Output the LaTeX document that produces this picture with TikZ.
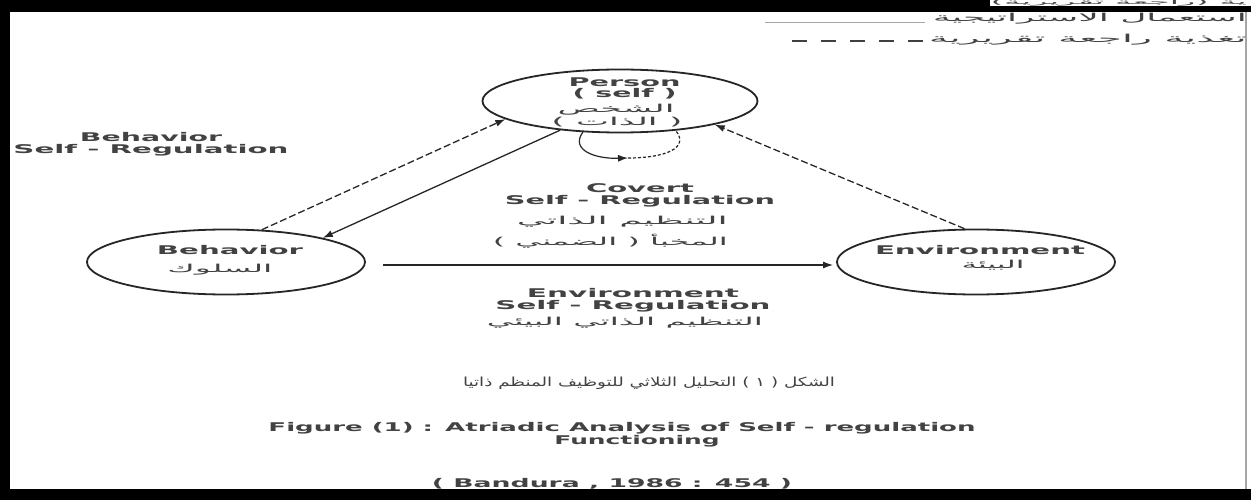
\documentclass[tikz,border=0pt]{standalone}
\usepackage{fontspec}
\usepackage{graphicx}
\usetikzlibrary{shapes.geometric,arrows.meta,calc}
\TeXXeTstate=1
\newfontfamily\arabicfont[Script=Arabic]{DejaVu Sans}
\newfontfamily\latf{DejaVu Sans Bold}
\newcommand{\LW}[2]{\resizebox{#1}{\height}{\latf\fontsize{12}{12}\selectfont #2}}
\newcommand{\AR}[2]{\resizebox{#1}{\height}{\arabicfont\fontsize{11}{12}\selectfont\beginR #2\endR}}
\newcommand{\ARbig}[2]{\resizebox{#1}{\height}{\arabicfont\fontsize{12.5}{13}\selectfont\beginR #2\endR}}
\definecolor{ink}{gray}{0.26}
\tikzset{
  lat/.style={font=\fontsize{12}{11.5}\selectfont, text=ink, inner sep=0pt, align=center},
  ar/.style={text=ink, inner sep=0pt},
  oval/.style={draw=black!85, line width=1.8pt, ellipse, inner sep=0pt},
  arr/.style={-{Latex[length=10pt,width=7pt]}, line width=1.3pt, draw=black!85},
  dsh/.style={arr, dash pattern=on 7pt off 3pt},
}
\begin{document}
\begin{tikzpicture}[x=1pt,y=-1pt]
\useasboundingbox (0,0) rectangle (1251,500);
% frame
\fill[white] (0,0) rectangle (1251,500);
\fill[black] (0,0) rectangle (990,12);
\fill[black] (990,6) rectangle (1251,12);
\fill[black] (0,0) rectangle (10,500);
\fill[black] (0,489) rectangle (1251,500);
\draw[gray!70, line width=1.5pt] (1246,12) -- (1246,489);
\node[ar, anchor=east] (cut) at (1247,3) {\resizebox{256pt}{5pt}{\arabicfont\beginR ية (راجعة تقريرية)\endR}};
% legend
\node[ar, anchor=east] (lg1) at (1247,19) {\AR{314pt}{\beginR استعمال الاستراتيجية\endR}};
\draw[gray!70, line width=1pt] ($(lg1.west)+(-8,4)$) -- +(-160,0);
\node[ar, anchor=east] (lg2) at (1247,40) {\AR{318pt}{\beginR تغذية راجعة تقريرية\endR}};
\draw[black!75, line width=1.2pt, dash pattern=on 15pt off 14pt] ($(lg2.west)+(-6,1)$) -- +(-132,0);
% ellipses
\node[oval, minimum width=275pt, minimum height=63pt] (per) at (620,101) {};
\node[oval, minimum width=278pt, minimum height=65pt] (beh) at (226,262) {};
\node[oval, minimum width=278pt, minimum height=65pt] (env) at (976,262) {};
% texts in ellipses
\node[lat] (pert) at (624.5,88.5) {\LW{112pt}{Person}\\\LW{104pt}{( self )}};
\node[ar] (pera1) at (616,110) {\AR{117pt}{الشخص}};
\node[ar] (pera2) at (617,122) {\AR{131pt}{\beginR ( الذات )\endR}};
\node[lat] (beht) at (230,250) {\LW{146pt}{Behavior}};
\node[ar] (beha) at (220,270) {\AR{105pt}{السلوك}};
\node[lat] (envt) at (980,250) {\LW{210pt}{Environment}};
\node[ar] (enva) at (993,265) {\AR{63pt}{البيئة}};
% labels
\node[lat] (l1) at (151,144) {\LW{142pt}{Behavior}\\\LW{275pt}{Self - Regulation}};
\node[lat] (l2) at (640,195.5) {\LW{108pt}{Covert}\\\LW{270pt}{Self - Regulation}};
\node[ar, anchor=east] (l2a) at (728,222) {\AR{211pt}{\beginR التنظيم الذاتي\endR}};
\node[ar, anchor=east] (l2b) at (728,241) {\AR{235pt}{\beginR المخبأ ( الضمني )\endR}};
\node[lat] (l3) at (633,300) {\LW{212pt}{Environment}\\\LW{275pt}{Self - Regulation}};
\node[ar] (l3a) at (625,323) {\AR{276pt}{\beginR التنظيم الذاتي البيئي\endR}};
% caption
\node[ar] (capa) at (649,383) {\ARbig{372pt}{\beginR الشكل ( ١ ) التحليل الثلاثي للتوظيف المنظم ذاتيا\endR}};
\node[lat] (cap1) at (622,428) {\LW{707pt}{Figure (1) : Atriadic Analysis of Self - regulation}};
\node[lat] (cap2) at (637,441) {\LW{165pt}{Functioning}};
\node[lat] (cap3) at (612,484) {\LW{360pt}{( Bandura , 1986 : 454 )}};
% connectors
\draw[dsh] (beh.42) -- (per.189);
\draw[arr] (per.206) -- (beh.14);
\draw[dsh] (env.109) -- (per.346);
\draw[arr] ($(beh.east)+(17,3)$) -- ($(env.west)+(-3,3)$);
% self loop
\coordinate (lpb) at (628,158);
\draw[arr, line width=1.2pt] (per.220) .. controls (570,150) and (595,159) .. (lpb);
\draw[black!85, line width=1.2pt, dash pattern=on 3pt off 2pt] (lpb) .. controls (665,158) and (690,148) .. (per.332);
\end{tikzpicture}
\end{document}
